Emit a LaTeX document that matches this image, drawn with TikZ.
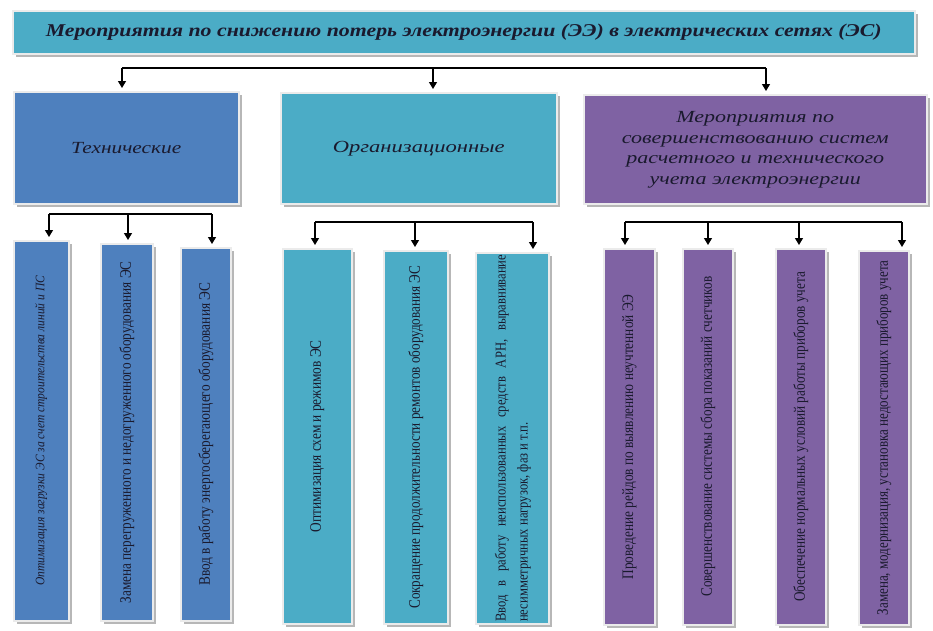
\documentclass[tikz,border=0pt]{standalone}
\usepackage{fontspec}
\setmainfont{Liberation Serif}
\usetikzlibrary{arrows.meta,shadows}
\definecolor{cblue}{HTML}{4E80BE}
\definecolor{cteal}{HTML}{4BACC6}
\definecolor{cpurp}{HTML}{7F62A3}
\definecolor{ctext}{HTML}{1A1A2E}
\newcommand{\stretchtext}[2]{\resizebox{#1}{\height}{#2}}
\newcommand{\vtext}[2]{\rotatebox{90}{\resizebox{#1}{\height}{#2}}}
\newcommand{\ws}{\ \hspace{.45em}}
\tikzset{
  box/.style={draw=black!8, line width=1.5pt, inner sep=0pt, anchor=north west, text=ctext,
    drop shadow={shadow xshift=3pt, shadow yshift=-3pt, fill=black!40, opacity=0.7}},
  titlebox/.style={box, fill=cteal, font=\fontsize{18}{22}\selectfont\bfseries\itshape},
  catbox/.style={box, font=\fontsize{17}{20.5}\selectfont\itshape},
  subbox/.style={box, font=\fontsize{16}{22}\selectfont},
  arr/.style={-{Triangle[length=7pt,width=8pt]}, line width=1.2pt, shorten >=3pt},
  bus/.style={line width=1.2pt},
}
\begin{document}
\begin{tikzpicture}[x=1pt,y=-1pt]
\useasboundingbox (0,0) rectangle (933,630);
% title
\node[titlebox, minimum width=902pt, minimum height=43pt] (title) at (12,10)
  {\stretchtext{836pt}{Мероприятия по снижению потерь электроэнергии (ЭЭ) в электрических сетях (ЭС)}};
% categories
\node[catbox, fill=cblue, minimum width=225pt, minimum height=112pt] (tech) at (13,91)
  {\stretchtext{110pt}{Технические}};
\node[catbox, fill=cteal, minimum width=276pt, minimum height=111pt] (org) at (280,92)
  {\stretchtext{172pt}{Организационные}};
\node[catbox, fill=cpurp, minimum width=343pt, minimum height=109pt] (meas) at (583,94)
  {\stretchtext{267pt}{\begin{tabular}{@{}c@{}}Мероприятия по\\ совершенствованию систем\\ расчетного и технического\\ учета электроэнергии\end{tabular}}};
% group 1
\node[subbox, fill=cblue, minimum width=55pt, minimum height=380pt, font=\fontsize{13}{16}\selectfont\itshape] (g1a) at (13,240)
  {\vtext{310pt}{Оптимизация загрузки ЭС за счет строительства линий и ПС}};
\node[subbox, fill=cblue, minimum width=52pt, minimum height=377pt] (g1b) at (100,243)
  {\vtext{342pt}{Замена перегруженного и недогруженного оборудования ЭС}};
\node[subbox, fill=cblue, minimum width=50pt, minimum height=373pt] (g1c) at (180,247)
  {\vtext{303pt}{Ввод в работу энергосберегающего оборудования ЭС}};
% group 2
\node[subbox, fill=cteal, minimum width=69pt, minimum height=375pt] (g2a) at (282,248)
  {\vtext{192pt}{Оптимизация схем и режимов ЭС}};
\node[subbox, fill=cteal, minimum width=64pt, minimum height=373pt] (g2b) at (383,250)
  {\vtext{343pt}{Сокращение продолжительности ремонтов оборудования ЭС}};
\node[subbox, fill=cteal, minimum width=73pt, minimum height=371pt, font=\fontsize{15}{22}\selectfont] (g2c) at (475,252)
  {\vtext{367pt}{\begin{tabular}{@{}l@{}}Ввод\ws в\ws работу\ws неиспользованных\ws средств\ws АРН,\ws выравнивание\\ несимметричных нагрузок, фаз и т.п.\end{tabular}}};
% group 3
\node[subbox, fill=cpurp, minimum width=51pt, minimum height=376pt] (g3a) at (603,248)
  {\vtext{285pt}{Проведение рейдов по выявлению неучтенной ЭЭ}};
\node[subbox, fill=cpurp, minimum width=50pt, minimum height=376pt] (g3b) at (682,248)
  {\vtext{320pt}{Совершенствование системы сбора показаний счетчиков}};
\node[subbox, fill=cpurp, minimum width=50pt, minimum height=376pt] (g3c) at (775,248)
  {\vtext{330pt}{Обеспечение нормальных условий работы приборов учета}};
\node[subbox, fill=cpurp, minimum width=50pt, minimum height=374pt] (g3d) at (858,250)
  {\vtext{355pt}{Замена, модернизация, установка недостающих приборов учета}};
% connectors: top level
\coordinate (t1) at (122,68);
\coordinate (t2) at (433,68);
\coordinate (t3) at (766,68);
\draw[bus] (t1) -- (t3);
\draw[arr] (t1) -- (t1 |- tech.north);
\draw[arr] (t2) -- (t2 |- org.north);
\draw[arr] (t3) -- (t3 |- meas.north);
% group 1 connectors
\coordinate (a1) at (49,214);
\coordinate (a2) at (128,214);
\coordinate (a3) at (212,214);
\draw[bus] (a1) -- (a3);
\draw[arr] (a1) -- (a1 |- g1a.north);
\draw[arr] (a2) -- (a2 |- g1b.north);
\draw[arr] (a3) -- (a3 |- g1c.north);
% group 2 connectors
\coordinate (b1) at (315,222);
\coordinate (b2) at (415,222);
\coordinate (b3) at (533,222);
\draw[bus] (b1) -- (b3);
\draw[arr] (b1) -- (b1 |- g2a.north);
\draw[arr] (b2) -- (b2 |- g2b.north);
\draw[arr] (b3) -- (b3 |- g2c.north);
% group 3 connectors
\coordinate (c1) at (625,222);
\coordinate (c2) at (708,222);
\coordinate (c3) at (799,222);
\coordinate (c4) at (902,222);
\draw[bus] (c1) -- (c4);
\draw[arr] (c1) -- (c1 |- g3a.north);
\draw[arr] (c2) -- (c2 |- g3b.north);
\draw[arr] (c3) -- (c3 |- g3c.north);
\draw[arr] (c4) -- (c4 |- g3d.north);
\end{tikzpicture}
\end{document}
